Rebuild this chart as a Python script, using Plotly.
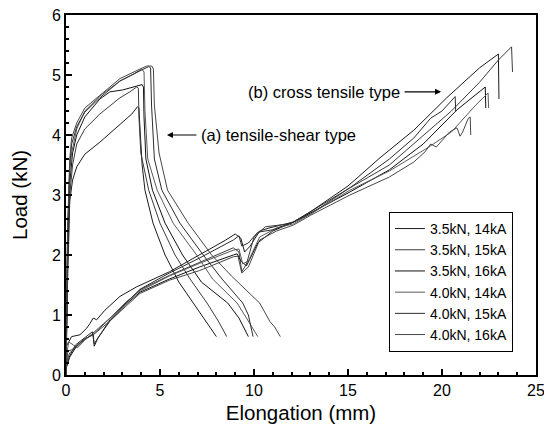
import plotly.graph_objects as go

labels = ["3.5kN, 14kA", "3.5kN, 15kA", "3.5kN, 16kA",
          "4.0kN, 14kA", "4.0kN, 15kA", "4.0kN, 16kA"]

# (a) tensile-shear type curves
shear_x = [
    [0, 0.08, 0.2, 0.35, 0.57, 1.0, 1.8, 2.87, 3.5, 3.8, 3.88, 3.92, 4.05, 4.2, 4.63, 5.27, 6.0, 6.77, 7.5, 8.0],
    [0, 0.08, 0.2, 0.35, 0.57, 1.0, 1.8, 2.87, 3.4, 3.76, 3.85, 3.88, 3.98, 4.4, 5.0, 5.8, 6.6, 7.5, 8.1, 8.55],
    [0, 0.08, 0.2, 0.35, 0.57, 1.0, 1.8, 2.34, 3.0, 3.6, 4.05, 4.12, 4.15, 4.25, 4.6, 5.27, 6.2, 7.2, 8.6, 9.2, 9.7],
    [0, 0.08, 0.2, 0.3, 0.57, 1.0, 1.8, 2.87, 3.5, 4.03, 4.15, 4.2, 4.35, 4.85, 5.7, 6.95, 7.8, 9.1, 9.6, 10.2],
    [0, 0.08, 0.2, 0.3, 0.57, 1.0, 1.8, 2.87, 3.94, 4.4, 4.5, 4.55, 4.7, 5.1, 6.06, 7.3, 8.3, 9.4, 9.7, 9.95],
    [0, 0.08, 0.2, 0.3, 0.57, 1.0, 1.8, 2.87, 3.94, 4.3, 4.56, 4.65, 4.7, 4.95, 5.4, 6.5, 7.75, 8.8, 10.3, 10.85, 11.1, 11.25, 11.4],
]
shear_y = [
    [0, 1.5, 2.9, 3.25, 3.47, 3.68, 3.88, 4.18, 4.35, 4.47, 4.45, 4.2, 3.5, 3.08, 2.53, 2.0, 1.55, 1.2, 0.88, 0.64],
    [0, 1.8, 3.0, 3.5, 3.85, 4.1, 4.35, 4.62, 4.72, 4.8, 4.78, 4.3, 3.7, 3.08, 2.53, 2.0, 1.6, 1.2, 0.9, 0.64],
    [0, 2.0, 3.2, 3.7, 4.0, 4.3, 4.6, 4.72, 4.75, 4.8, 4.84, 4.8, 4.3, 3.6, 3.08, 2.53, 2.0, 1.55, 1.2, 0.95, 0.64],
    [0, 2.2, 3.4, 3.7, 4.1, 4.4, 4.65, 4.9, 5.0, 5.1, 5.05, 4.4, 3.6, 3.08, 2.53, 2.0, 1.6, 1.2, 0.95, 0.64],
    [0, 2.3, 3.5, 3.85, 4.14, 4.38, 4.62, 4.9, 5.07, 5.14, 5.12, 4.5, 3.6, 3.08, 2.53, 2.0, 1.6, 1.2, 1.0, 0.64],
    [0, 2.4, 3.6, 3.95, 4.2, 4.45, 4.66, 4.94, 5.1, 5.15, 5.15, 5.1, 4.5, 3.7, 3.08, 2.53, 2.0, 1.65, 1.2, 0.89, 0.8, 0.72, 0.64],
]

# (b) cross tensile type curves
cross_x = [
    [0, 0.3, 0.74, 1.1, 1.28, 1.45, 1.63, 2.07, 2.87, 3.76, 5.5, 7.1, 8.5, 9.0, 9.3, 9.5, 9.8, 10.3, 10.8, 12.1, 13, 15, 16.7, 18.5, 20.25, 22.0, 23.0, 23.03],
    [0, 0.2, 0.5, 0.74, 1.0, 1.45, 2.34, 3.2, 3.94, 5.5, 7.1, 8.9, 9.2, 9.35, 9.6, 10.0, 10.6, 11.9, 13, 15, 17.2, 19, 20.5, 22.0, 23.0, 23.7, 23.75],
    [0, 0.2, 0.6, 1.0, 1.45, 1.5, 1.7, 2.34, 3.2, 3.94, 5.5, 7.1, 8.9, 9.1, 9.3, 9.6, 10.2, 11.0, 12.1, 13, 15.1, 17.2, 19.0, 20.8, 22.0, 22.3, 22.33],
    [0, 0.15, 0.4, 0.6, 1.0, 1.45, 2.34, 3.2, 3.94, 5.5, 7.1, 8.9, 9.2, 9.4, 9.7, 10.3, 11.2, 12.1, 13, 15.1, 17.2, 19.2, 20.5, 21.8, 22.45, 22.48],
    [0, 0.2, 0.5, 1.0, 1.4, 1.5, 2.34, 3.2, 3.94, 5.5, 7.1, 8.9, 9.2, 9.35, 9.7, 10.2, 11.0, 12.1, 13, 15.1, 17.2, 18.5, 19.4, 20.0, 20.7, 20.73],
    [0, 0.1, 0.3, 0.6, 1.0, 1.45, 2.34, 3.2, 3.94, 5.5, 7.1, 8.9, 9.15, 9.35, 9.7, 10.3, 11.2, 12.1, 13, 15.1, 17.2, 18.5, 19.1, 19.4, 19.7, 20.4, 20.8, 20.96, 21.1, 21.4, 21.5, 21.53],
]
cross_y = [
    [0.47, 0.64, 0.67, 0.78, 0.86, 0.95, 0.92, 1.08, 1.31, 1.47, 1.72, 2.0, 2.25, 2.35, 2.28, 2.05, 2.15, 2.4, 2.45, 2.55, 2.72, 3.15, 3.62, 4.08, 4.62, 5.12, 5.35, 4.6],
    [0.2, 0.37, 0.45, 0.53, 0.6, 0.68, 0.95, 1.2, 1.42, 1.66, 1.88, 2.12, 2.05, 1.72, 1.85, 2.3, 2.47, 2.52, 2.68, 3.1, 3.5, 4.0, 4.4, 4.88, 5.25, 5.47, 5.05],
    [0.1, 0.3, 0.5, 0.6, 0.68, 0.48, 0.62, 0.9, 1.18, 1.38, 1.6, 1.8, 2.0, 2.02, 1.9, 1.82, 2.2, 2.4, 2.55, 2.7, 3.05, 3.42, 3.85, 4.42, 4.72, 4.8, 4.45],
    [0.3, 0.55, 0.5, 0.45, 0.58, 0.7, 0.95, 1.22, 1.4, 1.65, 1.86, 2.08, 2.1, 1.85, 1.9, 2.3, 2.45, 2.52, 2.68, 3.08, 3.4, 3.78, 4.05, 4.5, 4.7, 4.45],
    [0.15, 0.32, 0.5, 0.62, 0.72, 0.52, 0.92, 1.2, 1.43, 1.7, 1.95, 2.25, 2.32, 2.15, 2.2, 2.38, 2.42, 2.55, 2.72, 3.12, 3.6, 3.95, 4.28, 4.4, 4.64, 4.39],
    [0.1, 0.4, 0.42, 0.5, 0.6, 0.67, 0.9, 1.15, 1.36, 1.58, 1.74, 1.97, 1.98, 1.7, 1.8, 2.25, 2.4, 2.5, 2.66, 3.0, 3.3, 3.55, 3.72, 3.85, 3.8, 4.05, 4.12, 3.98, 4.05, 4.28, 4.3, 4.0],
]

line_colors = ["#1a1a1a", "#3c3c3c", "#111111", "#5a5a5a", "#2c2c2c", "#474747"]

FONT = "Arial, Liberation Sans, Helvetica, sans-serif"

fig = go.Figure()
for i, lab in enumerate(labels):
    fig.add_trace(go.Scatter(x=shear_x[i], y=shear_y[i], mode="lines", name=lab,
                             legendgroup=lab, showlegend=True,
                             line=dict(color=line_colors[i], width=1)))
    fig.add_trace(go.Scatter(x=cross_x[i], y=cross_y[i], mode="lines", name=lab,
                             legendgroup=lab, showlegend=False,
                             line=dict(color=line_colors[i], width=1)))

axis_common = dict(
    showline=True, linewidth=2, linecolor="black", mirror=True,
    ticks="inside", ticklen=6, tickwidth=1.5, tickcolor="black",
    showgrid=False, zeroline=False, automargin=False,
    ticklabeloverflow="allow",
    tickfont=dict(family=FONT, size=16, color="black"),
)

fig.update_xaxes(range=[0, 25], tick0=0, dtick=5,
                 minor=dict(dtick=1, ticks="inside", ticklen=3, tickcolor="black"),
                 title=dict(text="Elongation (mm)", font=dict(family=FONT, size=20.5, color="black"), standoff=7),
                 **axis_common)
fig.update_yaxes(range=[0, 6], tick0=0, dtick=1,
                 minor=dict(dtick=0.2, ticks="inside", ticklen=3, tickcolor="black"),
                 title=dict(text="Load (kN)", font=dict(family=FONT, size=20.5, color="black"), standoff=34),
                 **axis_common)

fig.add_annotation(x=13.73, y=4.72, text="(b) cross tensile type", showarrow=False,
                   font=dict(family=FONT, size=16.5, color="black"))
fig.add_annotation(x=19.95, y=4.72, ax=17.93, ay=4.72, axref="x", ayref="y", text="",
                   showarrow=True, arrowhead=2, arrowsize=1, arrowwidth=1.2, arrowcolor="black")
fig.add_annotation(x=11.28, y=4.0, text="(a) tensile-shear type", showarrow=False,
                   font=dict(family=FONT, size=16.5, color="black"))
fig.add_annotation(x=5.37, y=4.0, ax=7.02, ay=4.0, axref="x", ayref="y", text="",
                   showarrow=True, arrowhead=2, arrowsize=1, arrowwidth=1.2, arrowcolor="black")

fig.update_layout(
    width=544, height=416,
    margin=dict(l=58, r=16, t=7, b=49),
    paper_bgcolor="white", plot_bgcolor="white",
    font=dict(family=FONT, size=14, color="black"),
    legend=dict(x=0.951, y=0.064, xanchor="right", yanchor="bottom",
                bgcolor="white", bordercolor="black", borderwidth=1,
                font=dict(family=FONT, size=14, color="black"),
                tracegroupgap=0),
)

fig.write_html("out.html")
